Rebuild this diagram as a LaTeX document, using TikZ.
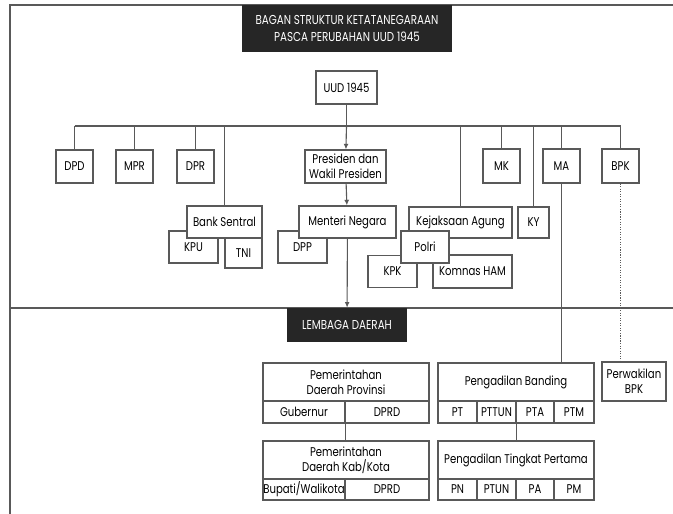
\documentclass[tikz,border=0pt]{standalone}
\usepackage{fontspec}
\setmainfont{Poppins}[FakeStretch=0.8]
\usetikzlibrary{arrows.meta,positioning,calc}

\definecolor{linegray}{gray}{0.35}
\def\pxu{0.025cm}

\begin{document}
\begin{tikzpicture}[x=0.025cm, y=-0.025cm,
  box/.style={draw=linegray, fill=white, line width=0.8pt, inner sep=0pt, align=center, font=\fontsize{9}{10.5}\selectfont},
  head/.style={fill=black!85, text=white, inner sep=0pt, align=center, font=\fontsize{9.2}{11.5}\selectfont},
  sz/.style 2 args={minimum width=#1*\pxu, minimum height=#2*\pxu},
  link/.style={draw=linegray, line width=0.8pt},
  arr/.style={link, -{Latex[length=4pt, width=3.5pt]}},
  frame/.style={draw=linegray, line width=1.2pt}
]
\useasboundingbox (0,0) rectangle (673,514);

% frame
\draw[frame] (673,5) -- (10,5) -- (10,514);
\draw[frame] (10,308) -- (673,308);

% title
\node[head, sz={210}{47}] (title) at (347,28.5) {BAGAN STRUKTUR KETATANEGARAAN\\PASCA PERUBAHAN UUD 1945};

\node[box, sz={61}{33}] (uud) at (346.5,87.5) {UUD 1945};

% bus
\coordinate (busL) at (74.5,126);
\coordinate (busR) at (620.5,126);
\draw[link] (busL) -- (busR);

% first row
\node[box, sz={37}{33}] (dpd) at (74.5,166.5) {DPD};
\node[box, sz={37}{33}] (mpr) at (134.5,166.5) {MPR};
\node[box, sz={37}{33}] (dpr) at (195.5,166.5) {DPR};
\node[box, sz={81}{33}] (pres) at (345.5,166.5) {Presiden dan\\Wakil Presiden};
\node[box, sz={37}{34}] (mk) at (501.5,166) {MK};
\node[box, sz={37}{34}] (ma) at (561.5,166) {MA};
\node[box, sz={37}{34}] (bpk) at (620.5,166) {BPK};

% second row
\node[box, sz={49}{32}] (kpu) at (193.5,247) {KPU};
\node[box, sz={75}{32}] (bank) at (224.5,222) {Bank Sentral};
\node[box, sz={37}{30}] (tni) at (243.5,253) {TNI};
\node[box, sz={49}{32}] (dpp) at (302.5,247) {DPP};
\node[box, sz={97}{32}] (menteri) at (347.5,222) {Menteri Negara};
\node[box, sz={103}{31}] (jaksa) at (460.5,222.5) {Kejaksaan Agung};
\node[box, sz={49}{32}] (kpk) at (392.5,271.5) {KPK};
\node[box, sz={79}{33}] (komnas) at (472.5,271.5) {Komnas HAM};
\node[box, sz={48}{32}] (polri) at (425,247) {Polri};
\node[box, sz={31}{31}] (ky) at (533.5,222.5) {KY};

\node[head, sz={120}{34}] (daerah) at (347,325) {LEMBAGA DAERAH};

% local government
\node[box, sz={166}{38}] (prov) at (346,382) {Pemerintahan\\Daerah Provinsi};
\node[box, sz={82}{22}] (gub) at (304,412) {Gubernur};
\node[box, sz={84}{22}] (dprdA) at (387,412) {DPRD};
\node[box, sz={166}{38}] (kab) at (346,460) {Pemerintahan\\Daerah Kab/Kota};
\node[box, sz={82}{21}] (bup) at (304,489.5) {Bupati/Walikota};
\node[box, sz={84}{21}] (dprdB) at (387,489.5) {DPRD};

% courts
\node[box, sz={156}{38}] (banding) at (516,382) {Pengadilan Banding};
\node[box, sz={39}{22}] (pt) at (457.5,412) {PT};
\node[box, sz={39}{22}] (pttun) at (496.5,412) {PTTUN};
\node[box, sz={38}{22}] (pta) at (535,412) {PTA};
\node[box, sz={40}{22}] (ptm) at (574,412) {PTM};
\node[box, sz={156}{38}] (tingkat) at (516,460) {Pengadilan Tingkat Pertama};
\node[box, sz={39}{21}] (pn) at (457.5,489.5) {PN};
\node[box, sz={39}{21}] (ptun) at (496.5,489.5) {PTUN};
\node[box, sz={38}{21}] (pa) at (535,489.5) {PA};
\node[box, sz={40}{21}] (pm) at (574,489.5) {PM};

\node[box, sz={64}{39}] (perwakilan) at (634,381.5) {Perwakilan\\BPK};

% connectors
\draw[link] (uud) -- (uud.south |- busL);
\draw[arr] (uud.south |- busL) -- (pres);
\draw[arr] (pres) -- (menteri);
\draw[arr] (menteri) -- (daerah);
\foreach \n in {dpd,mpr,dpr,mk,ma,bpk}
  \draw[link] (\n) -- (\n.north |- busL);
\draw[link] (bank) -- (bank.north |- busL);
\draw[link] (jaksa) -- (jaksa.north |- busL);
\draw[link] (ky) -- (ky.north |- busL);
\draw[link] (ma.south) -- (banding.north -| ma);
\draw[draw=linegray, line width=0.8pt, densely dotted] (bpk) -- (bpk.south |- perwakilan.north);
\draw[link] (gub.south east) -- (gub.south east |- kab.north);
\draw[link] (pttun.south east) -- (pttun.south east |- tingkat.north);

\end{tikzpicture}
\end{document}
